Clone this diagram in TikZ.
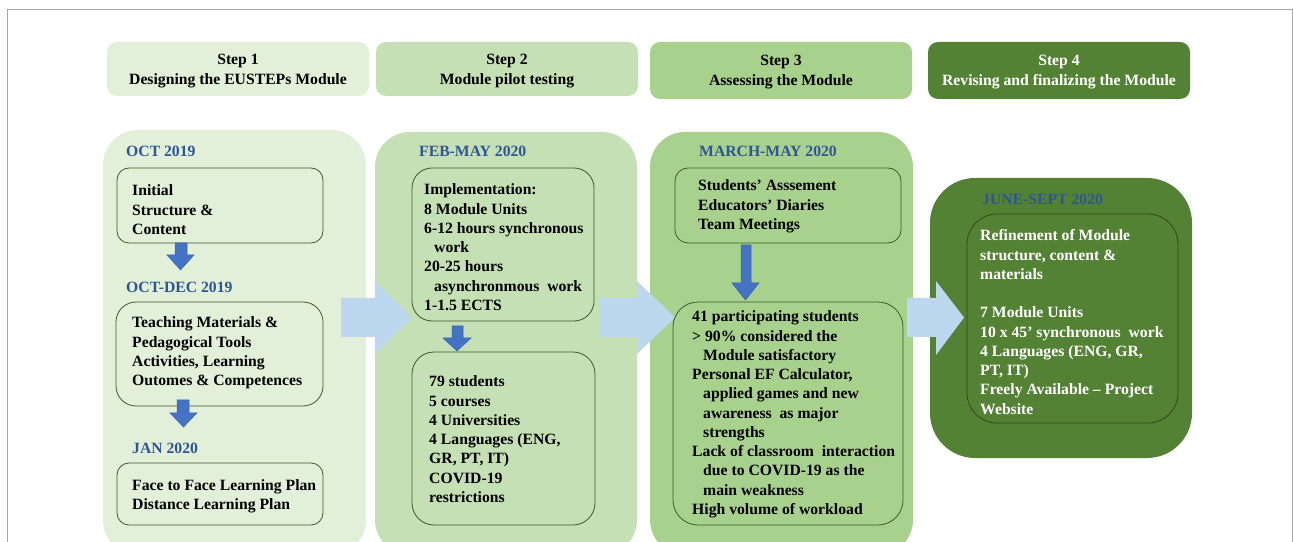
\documentclass[tikz,border=0pt]{standalone}
\usepackage{fontspec}
\setmainfont{Liberation Serif}
\usetikzlibrary{fit}
\definecolor{cA}{HTML}{E2F0D9}
\definecolor{cB}{HTML}{C5E0B4}
\definecolor{cC}{HTML}{A9D18E}
\definecolor{cD}{HTML}{548235}
\definecolor{bigarrow}{HTML}{BDD7EE}
\definecolor{smallarrow}{HTML}{4472C4}
\definecolor{smallarrowline}{HTML}{3A62AE}
\definecolor{datecol}{HTML}{2F5597}
\definecolor{boxline}{HTML}{3B5A2C}
\definecolor{framegray}{HTML}{A6A6A6}
\newcommand\mytab[1]{\begin{tabular}[t]{@{}l@{}}#1\end{tabular}}
\newcommand\mytabc[1]{\begin{tabular}[t]{@{}c@{}}#1\end{tabular}}
\begin{document}
\begin{tikzpicture}[x=1bp,y=-1bp,
  font=\fontsize{15.7bp}{19.25bp}\selectfont\bfseries,
  panel/.style={inner sep=0pt, draw=none},
  hdr/.style={inner sep=0pt, draw=none, rounded corners=10bp},
  box/.style={inner sep=0pt, draw=boxline, line width=0.8bp},
  txt/.style={inner sep=0pt, anchor=base west, text=black},
  wtxt/.style={inner sep=0pt, anchor=base west, text=white},
  datelbl/.style={inner sep=0pt, anchor=base west, text=datecol},
  htxt/.style={inner sep=0pt, anchor=base},
  bigarr/.style={fill=bigarrow, draw=none},
  smallarr/.style={fill=smallarrow, draw=smallarrowline, line width=0.5bp}
]
\useasboundingbox (0,0) rectangle (1293,542);
\fill[white] (0,0) rectangle (1293,542);
% frame
\draw[framegray, line width=1bp] (7,545) -- (7,9.5) -- (1292,9.5) -- (1292,545);

% headers
\node[hdr, fill=cA, fit={(107,42) (369,96)}] (h1) {};
\node[hdr, fill=cB, fit={(376,42) (638,96)}] (h2) {};
\node[hdr, fill=cC, fit={(650,42) (912,99)}] (h3) {};
\node[hdr, fill=cD, fit={(928,42) (1190,99)}] (h4) {};
\node[htxt] (h1t) at (238,65) {\mytabc{Step 1\\ Designing the EUSTEPs Module}};
\node[htxt] (h2t) at (507,65) {\mytabc{Step 2\\Module pilot testing}};
\node[htxt] (h3t) at (781,66) {\mytabc{Step 3\\Assessing the Module}};
\node[htxt, text=white] (h4t) at (1059,66) {\mytabc{Step 4\\Revising and finalizing the Module}};

% panels
\node[panel, fill=cA, rounded corners=35bp, fit={(103,130) (366,555)}] (p1) {};
\node[panel, fill=cB, rounded corners=35bp, fit={(375,132) (637,555)}] (p2) {};
\node[panel, fill=cC, rounded corners=35bp, fit={(650,132) (913,555)}] (p3) {};
\node[panel, fill=cD, rounded corners=45bp, fit={(930,178) (1192,458)}] (p4) {};

% big arrows between panels
\fill[bigarr] (341,298) -- (375,298) -- (375,281) -- (412,317.5) -- (375,354) -- (375,337) -- (341,337) -- cycle;
\fill[bigarr] (599,298) -- (637,298) -- (637,281) -- (675,317.5) -- (637,354) -- (637,337) -- (599,337) -- cycle;
\fill[bigarr] (907,298) -- (936,298) -- (936,281) -- (964,317.5) -- (936,355) -- (936,337) -- (907,337) -- cycle;

% inner boxes
\node[box, rounded corners=12bp, fit={(117,168) (323,243)}] (b11) {};
\node[box, rounded corners=20bp, fit={(116,302) (323,406)}] (b12) {};
\node[box, rounded corners=12bp, fit={(117,463) (323,525)}] (b13) {};
\node[box, rounded corners=20bp, fit={(412,168) (594,321)}] (b21) {};
\node[box, rounded corners=22bp, fit={(412,352) (595,525)}] (b22) {};
\node[box, rounded corners=13bp, fit={(675,168) (901,243)}] (b31) {};
\node[box, rounded corners=25bp, fit={(673,302) (903,525)}] (b32) {};
\node[box, draw=black!45!cD, rounded corners=30bp, fit={(967,214) (1178,423)}] (b41) {};

% small blue arrows
\filldraw[smallarr] (175,243) -- (187,243) -- (187,255) -- (194,255) -- (180.5,270) -- (167,255) -- (175,255) -- cycle;
\filldraw[smallarr] (177,400) -- (189,400) -- (189,413) -- (197,413) -- (183.5,427) -- (170,413) -- (177,413) -- cycle;
\filldraw[smallarr] (452,326) -- (463,326) -- (463,338) -- (471,338) -- (457,351) -- (443,338) -- (452,338) -- cycle;
\filldraw[smallarr] (741,245) -- (751,245) -- (751,283) -- (759,283) -- (745.5,300) -- (732,283) -- (741,283) -- cycle;

% panel 1
\node[datelbl] (d11) at (126,157) {OCT 2019};
\node[txt] (t11) at (132,196) {\mytab{Initial\\Structure \&\\Content}};
\node[datelbl] (d12) at (126,293) {OCT-DEC 2019};
\node[txt] (t12) at (132,328) {\mytab{Teaching Materials \&\\Pedagogical Tools\\Activities, Learning\\Outomes \& Competences}};
\node[datelbl] (d13) at (132,453) {JAN 2020};
\node[txt] (t13) at (132,490) {\mytab{Face to Face Learning Plan\\Distance Learning Plan}};

% panel 2
\node[datelbl] (d21) at (419,157) {FEB-MAY 2020};
\node[txt] (t21) at (424,195) {\mytab{Implementation:\\8 Module Units\\6-12 hours synchronous\\\hspace{10bp}work\\20-25 hours\\\hspace{10bp}asynchronmous\ \ work\\1-1.5 ECTS}};
\node[txt] (t22) at (429,387) {\mytab{79 students\\5 courses\\4 Universities\\4 Languages (ENG,\\GR, PT, IT)\\COVID-19\\restrictions}};

% panel 3
\node[datelbl] (d31) at (699,157) {MARCH-MAY 2020};
\node[txt] (t31) at (698,191) {\mytab{Students’ Asssement\\Educators’ Diaries\\Team Meetings}};
\node[txt] (t32) at (692,322) {\mytab{41 participating students\\> 90\% considered the\\\hspace{11bp}Module satisfactory\\Personal EF Calculator,\\\hspace{11bp}applied games and new\\\hspace{11bp}awareness\ \ as major\\\hspace{11bp}strengths\\Lack of classroom\ \ interaction\\\hspace{11bp}due to COVID-19 as the\\\hspace{11bp}main weakness\\High volume of workload}};

% panel 4
\node[datelbl] (d41) at (982,205) {JUNE-SEPT 2020};
\node[wtxt] (t41) at (980,241) {\mytab{Refinement of Module\\structure, content \&\\materials\\ \\7 Module Units\\10 x 45’ synchronous\ \ work\\4 Languages (ENG, GR,\\PT, IT)\\Freely Available – Project\\Website}};
\end{tikzpicture}
\end{document}
